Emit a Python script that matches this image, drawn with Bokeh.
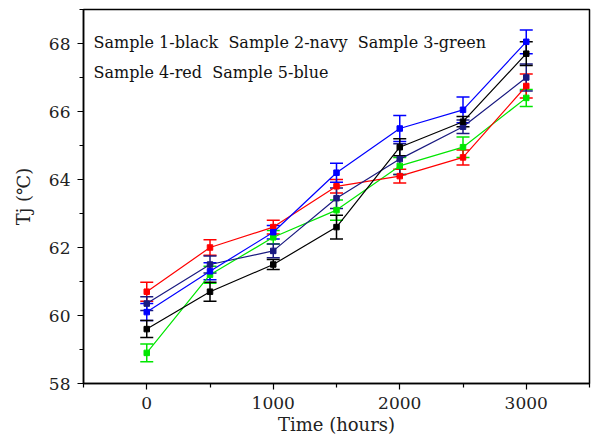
from bokeh.plotting import figure
from bokeh.models import ColumnDataSource, Whisker, TeeHead, Label, FixedTicker, Range1d
from bokeh.embed import file_html
from bokeh.resources import INLINE

# ---- data ----
time_h = [0, 500, 1000, 1500, 2000, 2500, 3000]

sample1_black = [59.6, 60.7, 61.5, 62.6, 64.95, 65.7, 67.7]
sample1_err = [0.25, 0.28, 0.15, 0.35, 0.25, 0.15, 0.35]

sample2_navy = [60.35, 61.5, 61.9, 63.45, 64.6, 65.55, 67.0]
sample2_err = [0.2, 0.25, 0.2, 0.3, 0.45, 0.2, 0.4]

sample3_green = [58.9, 61.2, 62.3, 63.1, 64.4, 64.95, 66.4]
sample3_err = [0.26, 0.25, 0.2, 0.3, 0.25, 0.3, 0.25]

sample4_red = [60.7, 62.0, 62.6, 63.8, 64.1, 64.65, 66.75]
sample4_err = [0.28, 0.23, 0.2, 0.2, 0.2, 0.22, 0.35]

sample5_blue = [60.1, 61.3, 62.45, 64.2, 65.5, 66.05, 68.05]
sample5_err = [0.25, 0.25, 0.2, 0.28, 0.38, 0.38, 0.35]

series = [
    (sample3_green, sample3_err, "#00e600"),
    (sample4_red, sample4_err, "#ff0000"),
    (sample2_navy, sample2_err, "#1a1a80"),
    (sample5_blue, sample5_err, "#0000ff"),
    (sample1_black, sample1_err, "#000000"),
]

x_ticks = [0, 1000, 2000, 3000]
y_ticks = [58, 60, 62, 64, 66, 68]

FONT = "DejaVu Serif"

p = figure(width=592, height=440, output_backend="svg", toolbar_location=None,
           x_range=Range1d(-500, 3500), y_range=Range1d(58, 69),
           min_border_left=83, min_border_right=3, min_border_top=9, min_border_bottom=57)

p.xgrid.visible = False
p.ygrid.visible = False
p.outline_line_color = "black"
p.outline_line_width = 1.5
p.background_fill_color = "white"
p.border_fill_color = "white"

for ax in (p.xaxis[0], p.yaxis[0]):
    ax.axis_line_color = "black"
    ax.axis_line_width = 1.5
    ax.major_tick_line_color = "black"
    ax.minor_tick_line_color = "black"
    ax.major_tick_line_width = 1.2
    ax.minor_tick_line_width = 1.2
    ax.major_tick_out = 6
    ax.major_tick_in = 0
    ax.minor_tick_out = 4
    ax.minor_tick_in = 0
    ax.major_label_text_font = FONT
    ax.major_label_text_font_size = "17px"
    ax.major_label_text_color = "#222222"
    ax.axis_label_text_font = FONT
    ax.axis_label_text_font_style = "normal"
    ax.axis_label_text_font_size = "18px"
    ax.axis_label_text_color = "#222222"

p.xaxis[0].ticker = FixedTicker(ticks=x_ticks, minor_ticks=[-500, 500, 1500, 2500, 3500])
p.yaxis[0].ticker = FixedTicker(ticks=y_ticks, minor_ticks=[59, 61, 63, 65, 67, 69])
p.xaxis[0].axis_label = "Time (hours)"
p.yaxis[0].axis_label = "Tj (℃)"
p.xaxis[0].major_label_standoff = 7
p.xaxis[0].axis_label_standoff = 2
p.yaxis[0].major_label_standoff = 7
p.yaxis[0].axis_label_standoff = 12

for vals, errs, col in series:
    src = ColumnDataSource(dict(
        x=time_h, y=vals,
        upper=[v + e for v, e in zip(vals, errs)],
        lower=[v - e for v, e in zip(vals, errs)],
    ))
    p.line("x", "y", source=src, line_color=col, line_width=1.2)
    w = Whisker(base="x", upper="upper", lower="lower", source=src,
                line_color=col, line_width=1.5,
                upper_head=TeeHead(size=13, line_color=col, line_width=1.5),
                lower_head=TeeHead(size=13, line_color=col, line_width=1.5))
    p.add_layout(w)
    p.scatter("x", "y", source=src, marker="square", size=5.5,
              fill_color=col, line_color=col)

legend_lines = ["Sample 1-black\u00a0 Sample 2-navy\u00a0 Sample 3-green",
                "Sample 4-red\u00a0 Sample 5-blue"]
for i, txt in enumerate(legend_lines):
    p.add_layout(Label(x=10, y=341 - i * 30, x_units="screen", y_units="screen",
                       text=txt, text_font=FONT, text_font_size="16px",
                       text_color="#111111", text_baseline="middle"))

open("out.html", "w").write(file_html(p, INLINE))
